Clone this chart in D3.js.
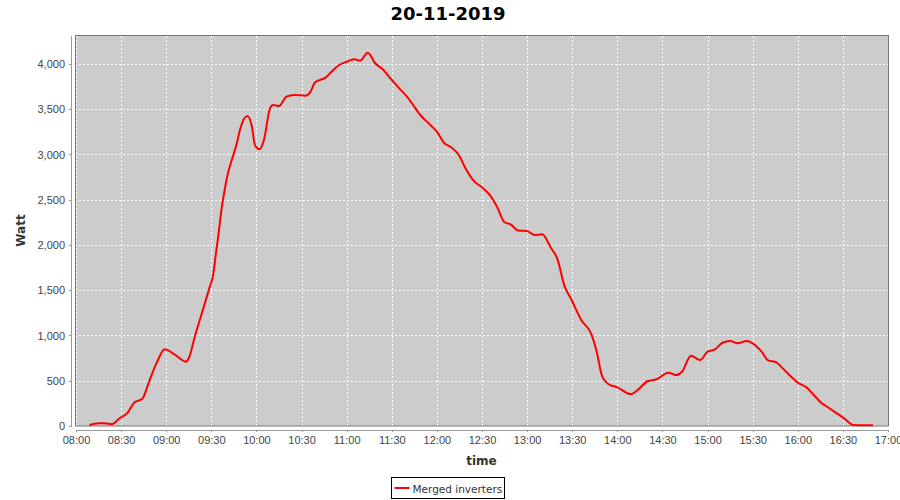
<!DOCTYPE html>
<html>
<head>
<meta charset="utf-8">
<script src="https://cdn.jsdelivr.net/npm/d3@7/dist/d3.min.js"></script>
<style>
  body { margin: 0; background: #fff; }
  svg { font-family: "DejaVu Sans", sans-serif; }
  .grid line { stroke: #fff; stroke-dasharray: 2,2; shape-rendering: crispEdges; }
  .grid path { display: none; }
  .axis path, .axis line { stroke: #999; shape-rendering: crispEdges; }
  .axis text { fill: #444; font-size: 11px; }
  .axisLabel { fill: #333; font-size: 12px; font-weight: bold; }
</style>
</head>
<body>
<div id="chart"></div>
<script>
// readings of the merged inverters, 20-11-2019
const times = ["08:09","08:15","08:19","08:24","08:29","08:34","08:39","08:44","08:49","08:54",
  "08:59","09:06","09:13","09:15","09:19","09:24","09:29","09:31","09:33","09:35",
  "09:37","09:39","09:41","09:43","09:47","09:49","09:54","09:57","09:59","10:02",
  "10:05","10:09","10:11","10:15","10:20","10:25","10:33","10:36","10:39","10:46",
  "10:50","10:55","11:00","11:05","11:09","11:14","11:19","11:24","11:29","11:35",
  "11:41","11:49","11:56","12:00","12:05","12:09","12:15","12:19","12:25","12:30",
  "12:36","12:40","12:45","12:49","12:54","13:00","13:05","13:10","13:16","13:20",
  "13:25","13:29","13:36","13:43","13:46","13:50","13:54","14:00","14:09","14:14",
  "14:20","14:26","14:34","14:39","14:43","14:49","14:55","15:00","15:05","15:10",
  "15:15","15:20","15:26","15:30","15:36","15:40","15:46","15:50","15:56","16:00",
  "16:06","16:10","16:16","16:20","16:26","16:30","16:37","16:43","16:50"];
const watts = [11,30,30,22,85,140,262,298,508,711,
  847,785,711,748,987,1263,1540,1650,1900,2150,
  2420,2620,2790,2906,3127,3271,3425,3307,3105,3057,
  3160,3510,3547,3536,3639,3657,3650,3694,3798,3849,
  3915,3989,4025,4052,4037,4125,4008,3941,3842,3731,
  3621,3436,3320,3252,3124,3086,2983,2847,2700,2637,
  2534,2423,2251,2228,2160,2155,2110,2118,1963,1853,
  1540,1411,1171,1005,840,545,464,427,353,405,
  494,516,589,563,600,777,729,821,847,920,
  939,914,939,914,821,729,700,637,538,479,
  424,354,251,207,140,96,11,7,7];
const xTicks = ["08:00","08:30","09:00","09:30","10:00","10:30","11:00","11:30","12:00",
  "12:30","13:00","13:30","14:00","14:30","15:00","15:30","16:00","16:30","17:00"];
const yTicks = [0,500,1000,1500,2000,2500,3000,3500,4000];
const title = "20-11-2019";
const seriesName = "Merged inverters";

let m = { left: 75, right: 12, top: 35, bottom: 74 };
let width = 900 - m.left - m.right,
    height = 500 - m.top - m.bottom;

let parse = d3.timeParse("%H:%M");
let data = times.map((t, i) => ({ t: parse(t), v: watts[i] }));

let svg = d3.select("#chart").append("svg")
    .attr("width", 900)
    .attr("height", 500);

svg.append("text")
    .attr("x", 448)
    .attr("y", 20)
    .attr("text-anchor", "middle")
    .style("font-size", "18px")
    .style("font-weight", "bold")
    .style("fill", "#000")
    .text(title);

let vis = svg.append("g")
    .attr("transform", "translate(" + m.left + "," + m.top + ")");

let x = d3.scaleTime().domain([parse("08:00"), parse("17:00")]).range([1, width]);
let y = d3.scaleLinear().domain([0, 4320]).range([height, 0]);

vis.append("rect")
    .attr("x", 0)
    .attr("y", 0)
    .attr("width", width)
    .attr("height", height)
    .attr("fill", "#cccccc");

vis.append("g")
    .attr("class", "grid")
    .attr("transform", "translate(0," + height + ")")
    .call(d3.axisBottom(x).tickValues(xTicks.map(parse)).tickSize(-height).tickFormat(""));

vis.append("g")
    .attr("class", "grid")
    .call(d3.axisLeft(y).tickValues(yTicks.slice(1)).tickSize(-width).tickFormat(""));

vis.append("rect")
    .attr("x", 0.5)
    .attr("y", 0.5)
    .attr("width", width)
    .attr("height", height - 0.5)
    .attr("fill", "none")
    .attr("stroke", "#777");

let line = d3.line()
    .curve(d3.curveMonotoneX)
    .x(d => x(d.t))
    .y(d => y(d.v));

vis.append("path")
    .datum(data)
    .attr("d", line)
    .attr("fill", "none")
    .attr("stroke", "#ff0000")
    .attr("stroke-width", 2)
    .attr("stroke-linejoin", "round");

// axes sit a few pixels off the plot area
vis.append("g")
    .attr("class", "axis")
    .attr("transform", "translate(0," + (height + 4) + ")")
    .call(d3.axisBottom(x).tickValues(xTicks.map(parse)).tickSizeInner(2).tickSizeOuter(0)
        .tickPadding(4).tickFormat(d3.timeFormat("%H:%M")));

vis.append("g")
    .attr("class", "axis")
    .attr("transform", "translate(-4,0)")
    .call(d3.axisLeft(y).tickValues(yTicks).tickSizeInner(2).tickSizeOuter(0)
        .tickPadding(4).tickFormat(d3.format(",")));

vis.append("text")
    .attr("class", "axisLabel")
    .attr("x", width / 2)
    .attr("y", height + 39)
    .attr("text-anchor", "middle")
    .text("time");

vis.append("text")
    .attr("class", "axisLabel")
    .attr("transform", "translate(" + (-m.left + 25) + "," + (height / 2) + ") rotate(-90)")
    .attr("text-anchor", "middle")
    .text("Watt");

// legend
let legend = svg.append("g")
    .attr("transform", "translate(391.5,477.5)");

legend.append("rect")
    .attr("width", 113)
    .attr("height", 21)
    .attr("fill", "#fff")
    .attr("stroke", "#000");

legend.append("line")
    .attr("x1", 3)
    .attr("x2", 18)
    .attr("y1", 10.5)
    .attr("y2", 10.5)
    .attr("stroke", "#ff0000")
    .attr("stroke-width", 2);

legend.append("text")
    .attr("x", 21)
    .attr("y", 15)
    .style("font-size", "10.5px")
    .style("fill", "#333")
    .text(seriesName);
</script>
</body>
</html>
